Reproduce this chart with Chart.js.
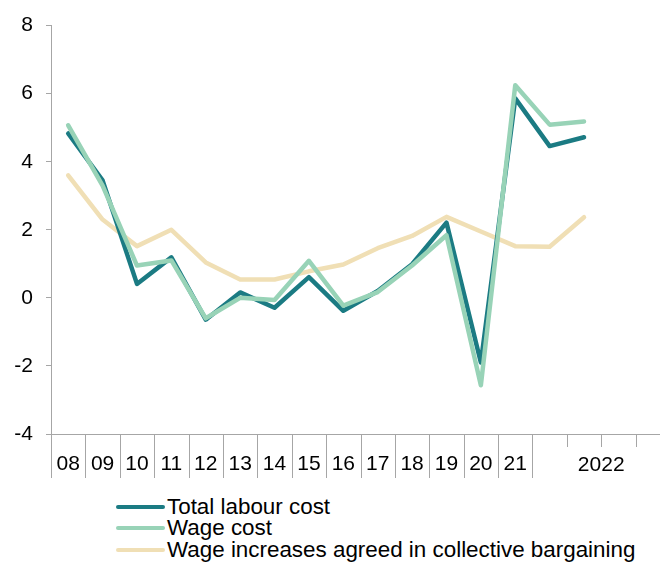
<!DOCTYPE html>
<html>
<head>
<meta charset="utf-8">
<script src="https://cdn.jsdelivr.net/npm/chart.js@4/dist/chart.umd.min.js"></script>
<style>
  html, body { margin: 0; padding: 0; background: #fff; overflow: hidden; }
  #wrap { position: relative; width: 672px; height: 480px; }
  #legend {
    position: absolute; left: 116px; top: 496px;
    font-family: "Liberation Sans", Arial, sans-serif; font-size: 22.4px; color: #000;
  }
  .row { display: flex; align-items: center; height: 21.5px; white-space: nowrap; }
  .swatch { width: 49px; height: 4px; border-radius: 2px; margin-right: 2px; }
</style>
</head>
<body>
<div id="wrap"><canvas id="chart"></canvas></div>
<div id="legend"></div>
<script>
// annual labels, then four quarters that sit under one "2022" group
const yearLabels    = ["08","09","10","11","12","13","14","15","16","17","18","19","20","21"];
const quarterLabels = ["Q1","Q2","Q3","Q4"];
const groupLabel    = "2022";
const categories    = [...yearLabels, ...quarterLabels];

const totalLabourCost = [4.83, 3.45, 0.41, 1.19, -0.64, 0.16, -0.29, 0.61, -0.38, 0.2, 0.99, 2.21, -1.9, 5.86, 4.46, 4.72, null, null];
const wageCost        = [5.07, 3.3, 0.95, 1.1, -0.6, 0.0, -0.06, 1.09, -0.23, 0.17, 0.95, 1.84, -2.57, 6.25, 5.09, 5.18, null, null];
const agreedIncreases = [3.6, 2.3, 1.52, 2.0, 1.04, 0.54, 0.54, 0.78, 0.98, 1.46, 1.82, 2.38, 1.95, 1.52, 1.5, 2.37, null, null];

const yTicks = [-4, -2, 0, 2, 4, 6, 8];

const axisGrey = "#a6a6a6";
const font = { family: "'Liberation Sans', Arial, sans-serif", size: 21 };

// separators under the x axis: long ones between years, short ones inside 2022
const separators = {
  id: "separators",
  afterDraw(chart) {
    const x = chart.scales.x;
    const ctx = chart.ctx;
    const half = (x.getPixelForValue(1) - x.getPixelForValue(0)) / 2;
    const top = chart.chartArea.bottom;
    ctx.save();
    ctx.strokeStyle = axisGrey;
    ctx.lineWidth = 1;
    for (let i = 0; i <= categories.length; i++) {
      const px = Math.round(x.getPixelForValue(i) - half) + 0.5;
      const long = i <= yearLabels.length;
      ctx.beginPath();
      ctx.moveTo(px, top);
      ctx.lineTo(px, long ? top + 44 : top + 13);
      ctx.stroke();
    }
    const first = yearLabels.length;
    const last = categories.length - 1;
    const cx = (x.getPixelForValue(first) + x.getPixelForValue(last)) / 2;
    ctx.fillStyle = "#000";
    ctx.font = `${font.size}px ${font.family}`;
    ctx.textAlign = "center";
    ctx.textBaseline = "middle";
    ctx.fillText(groupLabel, cx, top + 31);
    ctx.restore();
  }
};

const chart = new Chart(document.getElementById("chart"), {
  type: "line",
  data: {
    labels: categories,
    datasets: [
      { label: "Total labour cost", data: totalLabourCost, borderColor: "#1b7b83", order: 1 },
      { label: "Wage cost", data: wageCost, borderColor: "#98d3b7", order: 0 },
      { label: "Wage increases agreed in collective bargaining", data: agreedIncreases, borderColor: "#f0dfb5", order: 2 }
    ].map(d => ({ ...d, borderWidth: 4.5, pointRadius: 0, tension: 0, borderCapStyle: "round", borderJoinStyle: "round", fill: false }))
  },
  options: {
    responsive: true,
    maintainAspectRatio: false,
    animation: false,
    layout: { padding: { top: 13, right: 2, left: 0, bottom: 0 } },
    plugins: { legend: { display: false }, tooltip: { enabled: false } },
    scales: {
      x: {
        offset: true,
        grid: { display: false, drawTicks: false },
        border: { display: true, color: axisGrey },
        ticks: {
          font, color: "#000", padding: 18, autoSkip: false, maxRotation: 0,
          callback: (v, i) => i < yearLabels.length ? yearLabels[i] : ""
        },
        afterFit: s => { s.height = 46; }
      },
      y: {
        min: yTicks[0],
        max: yTicks[yTicks.length - 1],
        afterBuildTicks: s => { s.ticks = yTicks.map(v => ({ value: v })); },
        grid: { drawOnChartArea: false, tickLength: 5, color: axisGrey },
        border: { color: axisGrey },
        ticks: { font, color: "#000", padding: 13 },
        afterFit: s => { s.width = 51; }
      }
    }
  },
  plugins: [separators]
});

// legend, one entry per line, built from the datasets
const legend = document.getElementById("legend");
chart.data.datasets.forEach(ds => {
  const row = document.createElement("div");
  row.className = "row";
  row.innerHTML = `<span class="swatch" style="background:${ds.borderColor}"></span><span>${ds.label}</span>`;
  legend.appendChild(row);
});
</script>
</body>
</html>
